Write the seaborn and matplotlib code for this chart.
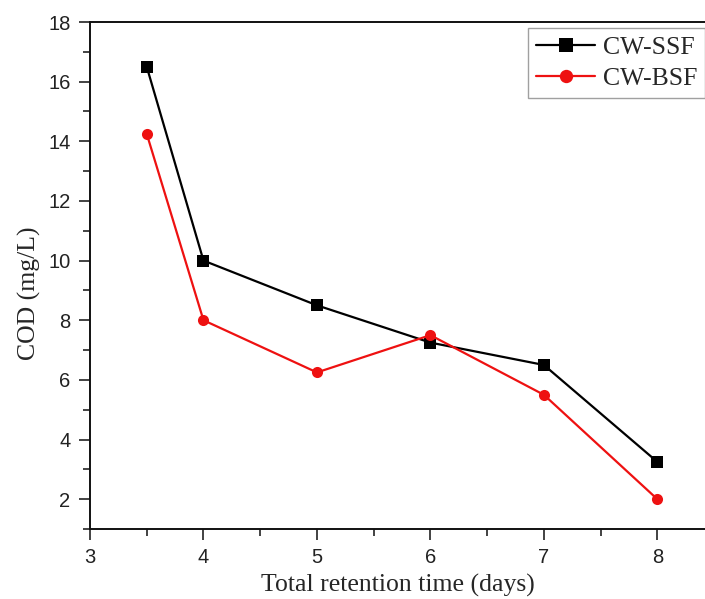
import matplotlib
matplotlib.use("Agg")
import matplotlib.pyplot as plt
import seaborn as sns
import pandas as pd
from matplotlib.ticker import MultipleLocator

days = [3.5, 4, 5, 6, 7, 8]
cw_ssf = [16.5, 10, 8.5, 7.25, 6.5, 3.25]
cw_bsf = [14.25, 8, 6.25, 7.5, 5.5, 2]
series = ["CW-SSF", "CW-BSF"]

df = pd.DataFrame({
    "days": days * 2,
    "COD": cw_ssf + cw_bsf,
    "series": [series[0]] * len(days) + [series[1]] * len(days),
})

sns.set_style("ticks")
plt.rcParams['font.family'] = ['Liberation Sans', 'DejaVu Sans']

fig = plt.figure(figsize=(7.05, 5.99), dpi=100)
ax = fig.add_axes([90/705, 70/599, 615/705, 507/599])

sns.lineplot(data=df, x="days", y="COD", hue="series", style="series",
             palette={"CW-SSF": "black", "CW-BSF": "#ee1111"},
             markers={"CW-SSF": "s", "CW-BSF": "o"}, dashes=False,
             markersize=8, markeredgewidth=0, linewidth=1.6, ax=ax)

ax.set_xlim(3, 8.42)
ax.set_ylim(1, 18)
ax.xaxis.set_major_locator(MultipleLocator(1))
ax.xaxis.set_minor_locator(MultipleLocator(0.5))
ax.yaxis.set_minor_locator(MultipleLocator(1))
ax.set_yticks(range(2, 19, 2))
ax.tick_params(which='major', direction='out', length=8, width=1.2, labelsize=14.5,
               colors='#222222', pad=6)
ax.tick_params(which='minor', direction='out', length=5, width=1.2, colors='#222222')
for s in ['left', 'bottom', 'top']:
    ax.spines[s].set_linewidth(1.4)
    ax.spines[s].set_color('#111111')
ax.spines['right'].set_visible(False)

serif = ['Liberation Serif', 'DejaVu Serif']
ax.set_xlabel("Total retention time (days)", fontsize=18.5, family=serif, labelpad=5)
ax.set_ylabel("COD (mg/L)", fontsize=18.5, family=serif)
ax.yaxis.set_label_coords(-0.08, 0.465)

leg = ax.legend(loc='upper right', bbox_to_anchor=(1.0, 0.988), frameon=True,
                fancybox=False, edgecolor='#888888', prop={'family': serif, 'size': 18.5},
                handlelength=2.3, borderpad=0.3, labelspacing=0.32, handletextpad=0.3,
                borderaxespad=0.0, markerscale=1.2)
leg.get_frame().set_linewidth(1.0)

fig.savefig("out.png", dpi=100)
